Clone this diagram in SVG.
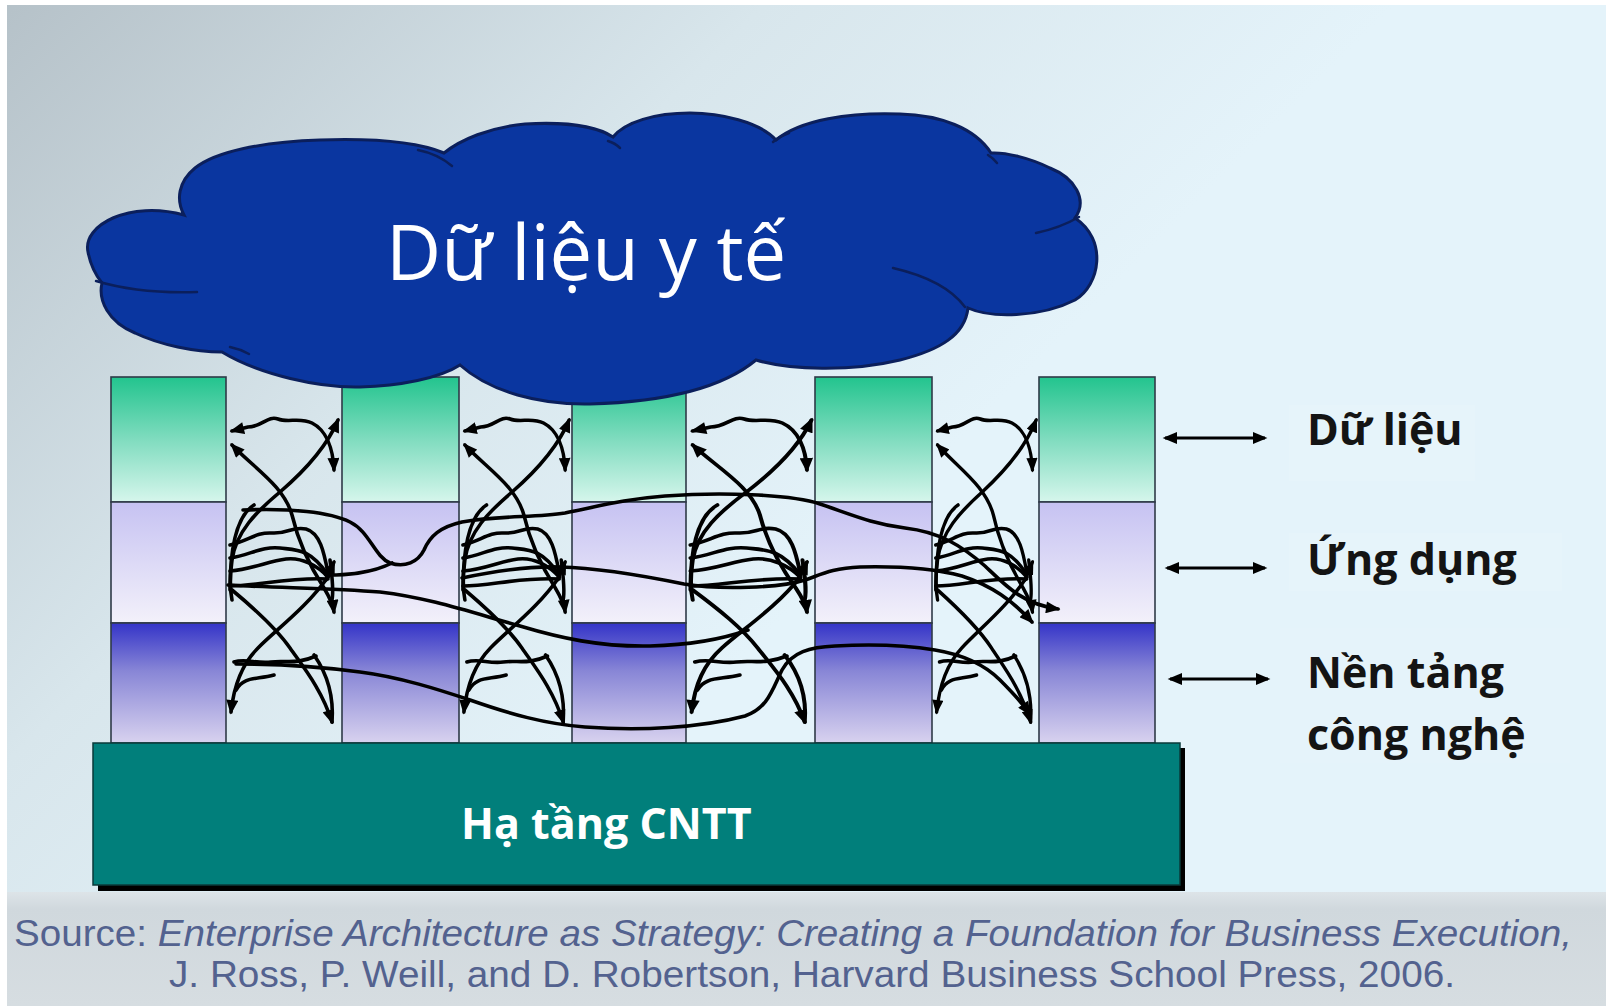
<svg xmlns="http://www.w3.org/2000/svg" xmlns:xlink="http://www.w3.org/1999/xlink" width="1606" height="1006" viewBox="0 0 1606 1006">
<style>
.wire{fill:none;stroke:#000;stroke-width:3.6;stroke-linecap:round;stroke-linejoin:round}
.col rect{stroke:#2f3a48;stroke-width:1.6}
.g1{fill:url(#gGreen)}
.g2{fill:url(#gLav)}
.g3{fill:url(#gBlue)}
.lbl{font-family:"Open Sans","Noto Sans","DejaVu Sans",sans-serif;font-weight:bold;font-size:43px;fill:#141414}
.src{font-family:"Liberation Sans",Arial,sans-serif;font-size:36.5px;fill:#53628f}
.dbl{stroke:#000;stroke-width:3;fill:none}
.inner{fill:none;stroke:#0b1f5c;stroke-width:2.5;stroke-linecap:round}
</style>
<defs>
<linearGradient id="bg" gradientUnits="userSpaceOnUse" x1="0" y1="0" x2="700" y2="700">
<stop offset="0" stop-color="#b5c1c8"/>
<stop offset="0.55" stop-color="#d8e6ec"/>
<stop offset="1" stop-color="#e4f3fa"/>
</linearGradient>
<linearGradient id="band" x1="0" y1="0" x2="0" y2="1">
<stop offset="0" stop-color="#dde4e8"/>
<stop offset="0.15" stop-color="#d0d8dd"/>
<stop offset="1" stop-color="#d6dde1"/>
</linearGradient>
<linearGradient id="gGreen" x1="0" y1="0" x2="0" y2="1">
<stop offset="0" stop-color="#22c48e"/>
<stop offset="0.5" stop-color="#80dcbf"/>
<stop offset="1" stop-color="#d6f6ec"/>
</linearGradient>
<linearGradient id="gLav" x1="0" y1="0" x2="0" y2="1">
<stop offset="0" stop-color="#c6c2f2"/>
<stop offset="1" stop-color="#f3f1fa"/>
</linearGradient>
<linearGradient id="gBlue" x1="0" y1="0" x2="0" y2="1">
<stop offset="0" stop-color="#3434c8"/>
<stop offset="0.4" stop-color="#8886d6"/>
<stop offset="1" stop-color="#d8d2ef"/>
</linearGradient>
<marker id="ah" markerUnits="userSpaceOnUse" viewBox="0 0 12 10" refX="10" refY="5" markerWidth="15" markerHeight="12" orient="auto-start-reverse">
<path d="M0,0 L12,5 L0,10 z" fill="#000"/>
</marker>
<g id="tangle" class="wire">
<path d="M108,470 C107,448 100,430 86,423 C74,417 62,423 52,419 C42,415 36,427 22,427 L6,431" marker-start="url(#ah)" marker-end="url(#ah)"/>
<path d="M112,420 C102,444 82,468 54,492 C30,512 10,532 6,560 C4,575 4,590 6,600" marker-start="url(#ah)"/>
<path d="M6,445 C28,468 58,486 66,515 C73,545 85,568 98,588 C104,598 107,604 108,612" marker-start="url(#ah)" marker-end="url(#ah)"/>
<path d="M28,505 C12,515 4,545 4,590"/>
<path d="M4,545 C22,541 30,532 46,533 C62,534 66,526 80,529 C94,533 98,552 102,573"/>
<path d="M4,558 C24,555 36,546 54,548 C70,550 84,548 102,575"/>
<path d="M4,571 C28,569 42,561 60,559 C76,557 92,566 102,577"/>
<path d="M4,586 C32,586 62,577 102,579"/>
<path d="M6,590 C30,610 50,628 64,648 C78,668 96,690 106,722" marker-end="url(#ah)"/>
<path d="M102,577 C80,608 52,628 32,648 C16,664 8,684 5,712" marker-end="url(#ah)"/>
<path d="M88,655 C100,672 108,695 106,722"/>
<path d="M8,662 C20,658 30,664 45,662 C60,660 70,665 90,656"/>
<path d="M10,690 C18,676 30,680 48,675"/>
<path d="M104,560 C106,575 108,590 106,600"/>
<path d="M100,580 L108,562" marker-end="url(#ah)"/>
</g>
</defs>

<rect x="0" y="0" width="1606" height="1006" fill="#ffffff"/>
<rect x="7" y="5" width="1599" height="1001" fill="url(#bg)"/>
<rect x="7" y="892" width="1599" height="114" fill="url(#band)"/>
<rect x="1289" y="405" width="186" height="76" fill="#ffffff" fill-opacity="0.09"/>
<rect x="1289" y="533" width="273" height="58" fill="#ffffff" fill-opacity="0.09"/>
<rect x="1280" y="628" width="290" height="135" fill="#ffffff" fill-opacity="0.07"/>

<g id="column-1" class="col">
<rect class="g1" x="111" y="377" width="115" height="125"/>
<rect class="g2" x="111" y="502" width="115" height="121"/>
<rect class="g3" x="111" y="623" width="115" height="120"/>
</g>
<g id="column-2" class="col">
<rect class="g1" x="342" y="377" width="117" height="125"/>
<rect class="g2" x="342" y="502" width="117" height="121"/>
<rect class="g3" x="342" y="623" width="117" height="120"/>
</g>
<g id="column-3" class="col">
<rect class="g1" x="572" y="377" width="114" height="125"/>
<rect class="g2" x="572" y="502" width="114" height="121"/>
<rect class="g3" x="572" y="623" width="114" height="120"/>
</g>
<g id="column-4" class="col">
<rect class="g1" x="815" y="377" width="117" height="125"/>
<rect class="g2" x="815" y="502" width="117" height="121"/>
<rect class="g3" x="815" y="623" width="117" height="120"/>
</g>
<g id="column-5" class="col">
<rect class="g1" x="1039" y="377" width="116" height="125"/>
<rect class="g2" x="1039" y="502" width="116" height="121"/>
<rect class="g3" x="1039" y="623" width="116" height="120"/>
</g>

<g id="connectors">
<use xlink:href="#tangle" href="#tangle" transform="translate(226,0)"/>
<use xlink:href="#tangle" href="#tangle" transform="translate(459,0) scale(0.983,1)"/>
<use xlink:href="#tangle" href="#tangle" transform="translate(686,0) scale(1.12,1)"/>
<use xlink:href="#tangle" href="#tangle" transform="translate(932,0) scale(0.93,1)"/>
<g class="wire">
<path d="M243,510 C290,508 330,512 350,522 C370,532 374,556 390,563 C405,568 418,562 424,550 C430,536 440,527 462,522 C500,515 535,518 565,513 C600,506 625,499 665,496 C720,492 790,494 820,504 C850,514 872,524 905,528 C940,532 962,546 985,566 C1005,585 1022,604 1058,609" marker-end="url(#ah)"/>
<path d="M326,575 C345,575 370,574 392,563"/>
<path d="M228,585 C280,588 330,588 380,592 C430,598 470,612 520,626 C560,638 600,647 650,646 C690,645 720,640 748,630"/>
<path d="M462,578 C500,570 530,566 560,567 C600,568 640,575 684,584 C720,590 780,588 805,580 C820,575 832,568 860,567 C900,566 932,568 962,576 C992,586 1012,600 1032,622" marker-end="url(#ah)"/>
<path d="M236,664 C290,664 330,668 360,672 C400,677 440,690 470,700 C510,714 545,724 585,727 C640,731 700,728 745,716 C768,708 772,690 782,670 C792,652 810,647 835,646 C870,644 905,645 935,650 C965,655 985,665 1000,680 C1012,692 1020,700 1030,714" marker-end="url(#ah)"/>
</g>
<g id="layer-arrows">
<line class="dbl" x1="1165" y1="438" x2="1265" y2="438" marker-start="url(#ah)" marker-end="url(#ah)"/>
<line class="dbl" x1="1167" y1="568" x2="1265" y2="568" marker-start="url(#ah)" marker-end="url(#ah)"/>
<line class="dbl" x1="1170" y1="679" x2="1268" y2="679" marker-start="url(#ah)" marker-end="url(#ah)"/>
</g>
</g>

<g id="cloud">
<path d="M184,215 C130,200 82,225 88,252 C91,268 98,278 102,283 C98,300 108,322 135,333 C160,345 195,352 222,352 C260,375 320,388 360,387 C400,386 440,378 460,365 C490,392 540,405 590,404 C660,402 720,390 756,360 C790,370 850,372 900,360 C940,350 965,335 968,308 C990,318 1040,318 1075,300 C1100,285 1108,240 1075,218 C1088,200 1075,178 1050,168 C1030,158 1005,152 991,153 C975,128 940,115 900,114 C850,112 800,120 776,140 C760,122 720,113 690,113 C655,113 625,122 613,137 C595,125 560,122 525,124 C490,127 460,140 444,153 C420,143 380,138 320,140 C260,142 215,152 195,168 C178,182 176,200 184,215 Z" fill="#0a36a0" stroke="#0b1f5c" stroke-width="3"/>
<path class="inner" d="M96,281 Q140,294 197,292"/>
<path class="inner" d="M418,150 Q438,154 452,166"/>
<path class="inner" d="M608,141 Q615,143 620,148"/>
<path class="inner" d="M773,142 Q780,136 789,133"/>
<path class="inner" d="M988,155 Q993,158 997,163"/>
<path class="inner" d="M1036,233 Q1060,228 1079,217"/>
<path class="inner" d="M893,268 Q945,280 965,307"/>
<path class="inner" d="M230,347 Q240,349 249,354"/>
<text x="386" y="280" font-family="'Open Sans','Noto Sans','DejaVu Sans',sans-serif" font-size="76" fill="#ffffff">Dữ liệu y tế</text>
</g>

<g id="base">
<rect x="98" y="748" width="1087" height="143" fill="#000000"/>
<rect x="93" y="743" width="1087" height="142" fill="#017f7b" stroke="#0a3a3a" stroke-width="1.5"/>
<text x="461" y="839" font-family="'Open Sans','Noto Sans','DejaVu Sans',sans-serif" font-weight="bold" font-size="43" fill="#ffffff">Hạ tầng CNTT</text>
</g>

<g id="labels">
<text class="lbl" x="1307" y="445">Dữ liệu</text>
<text class="lbl" x="1307" y="575">Ứng dụng</text>
<text class="lbl" x="1307" y="688">Nền tảng</text>
<text class="lbl" x="1307" y="750">công nghệ</text>
</g>

<g id="source">
<text class="src" x="14" y="946" textLength="1558" lengthAdjust="spacingAndGlyphs">Source: <tspan font-style="italic">Enterprise Architecture as Strategy: Creating a Foundation for Business Execution,</tspan></text>
<text class="src" x="169" y="987" textLength="1286" lengthAdjust="spacingAndGlyphs">J. Ross, P. Weill, and D. Robertson, Harvard Business School Press, 2006.</text>
</g>
</svg>
